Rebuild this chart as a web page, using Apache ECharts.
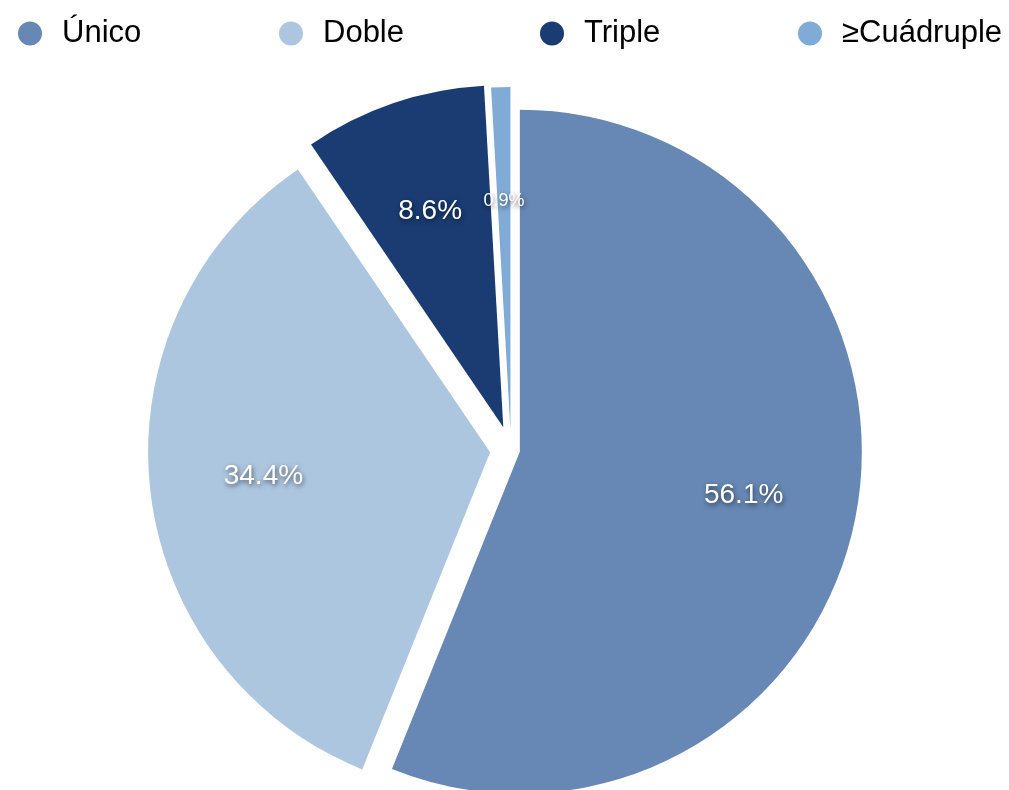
<!DOCTYPE html>
<html>
<head>
<meta charset="utf-8">
<script src="https://cdn.jsdelivr.net/npm/echarts@6/dist/echarts.min.js"></script>
<style>
html,body{margin:0;padding:0;background:#fff;}
#chart{width:1009px;height:790px;}
</style>
</head>
<body>
<div id="chart"></div>
<script>
const categories = ['Único', 'Doble', 'Triple', '≥Cuádruple'];
const values = [56.1, 34.4, 8.6, 0.9];
const colors = ['#6788B5', '#ADC6DF', '#1A3C73', '#7FABD6'];
const labelSizes = [28, 28, 28, 18];
// explosion distance of each slice (px)
const explode = [9, 21, 24, 21];
// left edge of each legend entry (px)
const legendLefts = [13, 274, 535, 793];

const FONT = '"Liberation Sans", Arial, Helvetica, sans-serif';
const chart = echarts.init(document.getElementById('chart'), null, {renderer: 'canvas'});
const CENTER = [511, 450];
const R = 342;
const TRANSPARENT = 'rgba(0,0,0,0)';

const series = [];
categories.forEach((cat, k) => {
  series.push({
    type: 'pie',
    name: 'slice' + k,
    center: CENTER,
    radius: [0, R],
    startAngle: 90,
    clockwise: true,
    selectedMode: 'multiple',
    selectedOffset: explode[k],
    silent: true,
    label: {show: false},
    labelLine: {show: false},
    emphasis: {disabled: true},
    itemStyle: {borderWidth: 0},
    data: categories.map((n, i) => ({
      name: n, value: values[i], selected: i === k,
      itemStyle: {color: i === k ? colors[i] : TRANSPARENT}
    }))
  });
});
categories.forEach((cat, k) => {
  series.push({
    type: 'pie',
    name: 'label' + k,
    center: CENTER,
    radius: [136, 314],
    startAngle: 90,
    clockwise: true,
    selectedMode: 'multiple',
    selectedOffset: explode[k],
    silent: true,
    itemStyle: {color: TRANSPARENT, borderWidth: 0},
    emphasis: {disabled: true},
    labelLine: {show: false},
    label: {
      position: 'inside',
      formatter: p => p.value.toFixed(1) + '%',
      color: '#fff',
      fontFamily: FONT,
      textShadowColor: 'rgba(0,0,0,0.6)',
      textShadowBlur: 5,
      textShadowOffsetX: 1,
      textShadowOffsetY: 2
    },
    data: categories.map((n, i) => ({
      name: n, value: values[i], selected: i === k,
      label: {show: i === k, fontSize: labelSizes[i]}
    }))
  });
});

const legends = categories.map((n, i) => ({
  data: [{name: n, itemStyle: {color: colors[i]}}],
  left: legendLefts[i], top: 13,
  icon: 'circle',
  itemWidth: 24, itemHeight: 24,
  selectedMode: false,
  textStyle: {fontFamily: FONT, fontSize: 31, color: '#000', padding: [0, 0, 0, 15]}
}));

chart.setOption({
  animation: false,
  legend: legends,
  series: series
});
</script>
</body>
</html>
